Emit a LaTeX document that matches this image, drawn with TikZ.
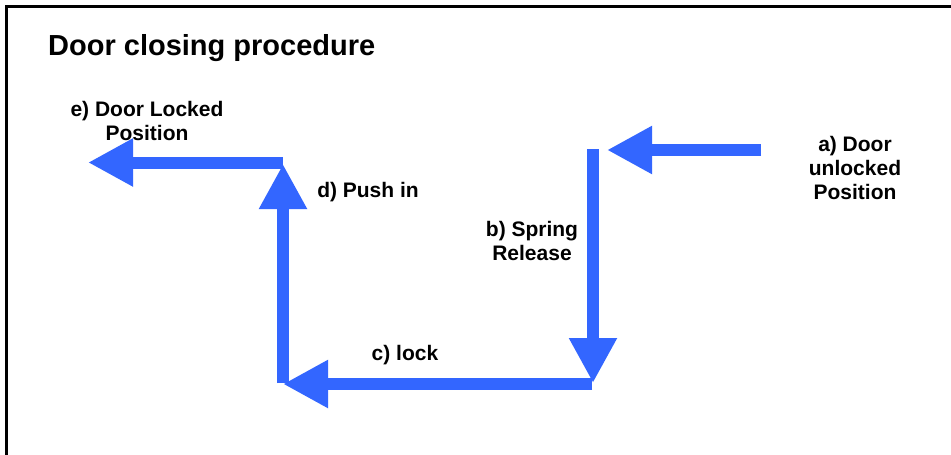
\documentclass[tikz,border=0pt]{standalone}
\usepackage{fontspec}
\setmainfont{Liberation Sans}
\usetikzlibrary{arrows.meta}
\definecolor{arrowblue}{RGB}{51,102,255}
\tikzset{
  flow/.style={draw=arrowblue, line width=12pt, line cap=butt,
    -{Triangle[length=45pt,width=45pt]}},
  lbl/.style={font=\fontsize{21}{24}\selectfont\bfseries, align=center, inner sep=0pt},
  ttl/.style={font=\fontsize{29}{34}\selectfont\bfseries, inner sep=0pt, anchor=west}
}
\begin{document}
\begin{tikzpicture}[x=1pt,y=-1pt]
\useasboundingbox (0,0) rectangle (951,455);
\fill[white] (0,0) rectangle (951,455);
% frame (top and left edges visible)
\draw[line width=3pt] (6,456) -- (6,6) -- (952,6);
% title
\node[ttl] (title) at (48,48) {Door closing procedure};
% key points
\coordinate (a0) at (761,150);
\coordinate (a1) at (607,150);
\coordinate (b0) at (593,149);
\coordinate (b1) at (593,383);
\coordinate (c0) at (592,384);
\coordinate (c1) at (283,384);
\coordinate (d0) at (283,383);
\coordinate (d1) at (283,164);
\coordinate (e0) at (283,162.5);
\coordinate (e1) at (88,162.5);
% arrows
\draw[flow] (a0) -- (a1);
\draw[flow] (b0) -- (b1);
\draw[flow] (c0) -- (c1);
\draw[flow] (d0) -- (d1);
\draw[flow] (e0) -- (e1);
% labels
\node[lbl] (la) at (855,168) {a) Door\\unlocked\\Position};
\node[lbl] (lb) at (532,241) {b) Spring\\Release};
\node[lbl] (lc) at (405,355) {c) lock};
\node[lbl] (ld) at (368,192) {d) Push in};
\node[lbl] (le) at (147,121) {e) Door Locked\\Position};
\end{tikzpicture}
\end{document}
